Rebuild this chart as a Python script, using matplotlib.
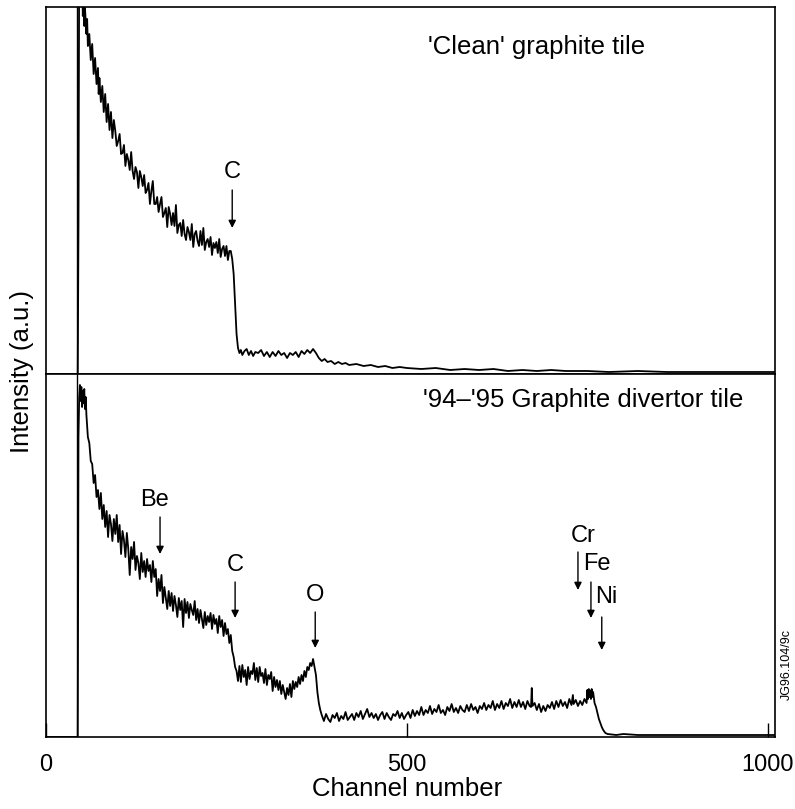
import numpy as np
import matplotlib
matplotlib.use('Agg')
import matplotlib.pyplot as plt

plt.rcParams['font.family'] = ['Liberation Sans', 'DejaVu Sans']

# marker line at the start of the spectrum (channel)
start_ch = 43.5

# 'Clean' graphite tile spectrum: (channel, intensity a.u.)
clean = [(0, 0), (44, 0), (45, 150), (46, 420), (47, 390), (48, 410), (49, 372), (50, 398),
         (51, 358), (52, 380), (53, 348), (54, 366), (55, 352), (56, 340), (57, 355), (58, 328),
         (60, 340), (62, 314), (64, 330), (66, 300), (68, 316), (70, 290), (72, 306), (73, 280),
         (74, 296), (76, 272), (78, 288), (80, 262), (82, 280), (84, 252), (86, 270), (88, 244),
         (90, 262), (92, 236), (94, 254), (96, 243), (98, 228), (100, 233), (102, 240), (104, 220),
         (106, 221), (108, 229), (110, 208), (112, 220), (114, 214), (116, 204), (118, 222), (120, 203),
         (122, 195), (124, 207), (126, 202), (128, 186), (130, 203), (132, 197), (134, 188), (136, 199),
         (138, 181), (140, 184), (142, 191), (144, 170), (146, 183), (148, 193), (150, 170), (152, 170),
         (154, 177), (156, 162), (158, 170), (160, 177), (162, 157), (164, 161), (166, 166), (168, 147),
         (170, 167), (172, 160), (174, 149), (176, 161), (178, 148), (180, 169), (182, 141), (184, 149),
         (186, 151), (188, 138), (190, 154), (192, 140), (194, 134), (196, 147), (198, 142), (200, 134),
         (202, 150), (204, 127), (206, 140), (208, 143), (210, 133), (212, 128), (214, 143), (216, 129),
         (218, 146), (220, 124), (222, 132), (224, 135), (226, 127), (228, 137), (230, 119), (232, 131),
         (234, 126), (236, 132), (238, 121), (240, 135), (242, 117), (244, 125), (246, 128), (248, 118),
         (250, 128), (252, 114), (254, 123), (256, 123), (258, 115), (260, 100), (262, 70), (264, 40),
         (266, 26), (268, 21), (270, 24), (272, 19), (275, 23), (278, 25), (281, 19), (284, 23),
         (287, 18), (290, 22), (294, 21), (298, 24), (302, 18), (306, 22), (310, 17), (314, 22),
         (318, 18), (322, 23), (326, 19), (330, 21), (334, 16), (338, 21), (342, 19), (346, 22),
         (350, 17), (354, 23), (358, 20), (362, 24), (366, 21), (370, 25), (374, 21), (378, 16),
         (382, 13), (386, 15), (390, 12), (395, 13), (400, 10), (405, 12), (410, 10), (415, 11),
         (420, 9), (430, 10), (440, 8), (450, 9), (460, 7), (470, 8), (480, 6), (490, 7),
         (500, 6), (520, 5), (540, 6), (560, 4), (580, 5), (600, 4), (620, 5), (640, 3),
         (660, 4), (680, 3), (700, 4), (720, 3), (750, 3), (780, 2), (820, 3), (860, 2),
         (900, 2), (940, 2), (980, 2), (1010, 2)]

# '94-'95 Graphite divertor tile spectrum: (channel, intensity a.u.)
divertor = [(0, 0), (44, 0), (45, 300), (46, 340), (47, 352), (48, 336), (49, 350), (50, 330),
            (51, 346), (52, 334), (53, 348), (54, 328), (55, 340), (56, 322), (58, 300), (60, 294),
            (62, 276), (64, 273), (66, 254), (68, 262), (70, 240), (72, 247), (74, 228), (76, 244),
            (78, 218), (80, 232), (82, 210), (84, 226), (86, 200), (88, 222), (90, 213), (92, 196),
            (94, 218), (96, 203), (98, 222), (100, 195), (102, 212), (104, 183), (106, 206), (108, 197),
            (110, 180), (112, 204), (114, 188), (116, 162), (118, 190), (120, 178), (122, 195), (124, 167),
            (126, 181), (128, 174), (130, 158), (132, 184), (134, 165), (136, 176), (138, 160), (140, 178),
            (142, 166), (144, 172), (146, 155), (148, 176), (150, 160), (152, 168), (154, 141), (156, 158),
            (158, 146), (160, 162), (162, 134), (164, 150), (166, 139), (168, 128), (170, 146), (172, 131),
            (174, 144), (176, 126), (178, 141), (180, 132), (182, 120), (184, 139), (186, 127), (188, 136),
            (190, 110), (192, 138), (194, 124), (196, 135), (198, 119), (200, 133), (202, 127), (204, 122),
            (206, 136), (208, 117), (210, 128), (212, 114), (214, 127), (216, 118), (218, 109), (220, 125),
            (222, 112), (224, 121), (226, 115), (228, 124), (230, 108), (232, 122), (234, 113), (236, 118),
            (238, 104), (240, 121), (242, 110), (244, 117), (246, 101), (248, 114), (250, 103), (252, 108),
            (254, 94), (256, 102), (258, 86), (260, 80), (262, 70), (264, 66), (266, 56), (268, 71),
            (270, 55), (272, 72), (274, 60), (276, 67), (278, 52), (280, 70), (282, 58), (284, 66),
            (286, 63), (288, 74), (290, 57), (292, 69), (294, 55), (296, 70), (298, 61), (300, 64),
            (302, 54), (304, 68), (306, 52), (308, 62), (310, 58), (312, 65), (314, 46), (316, 60),
            (318, 50), (320, 57), (322, 47), (324, 56), (326, 43), (328, 52), (330, 45), (332, 38),
            (334, 49), (336, 42), (338, 53), (340, 40), (342, 56), (344, 48), (346, 55), (348, 50),
            (350, 60), (352, 53), (354, 62), (356, 56), (358, 66), (360, 60), (362, 70), (364, 67),
            (366, 74), (368, 71), (370, 78), (372, 70), (374, 62), (376, 45), (378, 34), (380, 27),
            (382, 22), (385, 16), (388, 23), (391, 18), (394, 15), (397, 22), (400, 19), (403, 24),
            (406, 16), (409, 21), (412, 18), (415, 25), (418, 17), (421, 20), (424, 23), (427, 17),
            (430, 24), (433, 20), (436, 26), (439, 18), (442, 23), (445, 28), (448, 20), (451, 24),
            (454, 19), (457, 23), (460, 17), (463, 22), (466, 25), (469, 18), (472, 24), (475, 20),
            (478, 17), (481, 23), (484, 21), (487, 26), (490, 19), (493, 24), (496, 18), (499, 22),
            (502, 25), (505, 19), (508, 27), (511, 21), (514, 26), (517, 22), (520, 30), (523, 22),
            (526, 27), (529, 24), (532, 31), (535, 23), (538, 28), (541, 25), (544, 32), (547, 24),
            (550, 27), (553, 22), (556, 30), (559, 26), (562, 33), (565, 25), (568, 29), (571, 24),
            (574, 31), (577, 27), (580, 25), (583, 32), (586, 26), (589, 33), (592, 27), (595, 30),
            (598, 24), (601, 31), (604, 28), (607, 34), (610, 27), (613, 32), (616, 29), (619, 36),
            (622, 27), (625, 33), (628, 29), (631, 36), (634, 28), (637, 34), (640, 31), (643, 38),
            (646, 29), (649, 35), (652, 30), (655, 37), (658, 30), (661, 35), (664, 28), (667, 36),
            (670, 31), (672, 30), (673, 49), (674, 31), (677, 34), (680, 27), (683, 33), (686, 25),
            (689, 31), (692, 26), (695, 32), (698, 29), (701, 35), (704, 28), (707, 36), (710, 30),
            (713, 37), (716, 31), (719, 35), (722, 29), (725, 38), (728, 32), (730, 42), (731, 33),
            (734, 37), (737, 31), (740, 36), (743, 32), (746, 38), (749, 34), (750, 47), (751, 38),
            (752, 48), (753, 40), (754, 46), (755, 38), (756, 48), (757, 40), (758, 45), (760, 34),
            (762, 30), (764, 24), (766, 18), (768, 14), (770, 10), (772, 7), (775, 4), (778, 3),
            (790, 2), (800, 3), (820, 2), (850, 2), (900, 2), (950, 2), (1000, 2), (1010, 2)]

# element labels: (name, label x, label y, arrow x, arrow top, arrow tip)
clean_marks = [('C', 258, 202, 258, 184, 146)]
div_marks = [('Be', 151, 237, 158, 220, 183),
             ('C', 262, 172, 262, 155, 119),
             ('O', 373, 142, 373, 125, 89),
             ('Cr', 744, 201, 737, 185, 147)]
# Fe and Ni labels sit to the right of their arrows
div_side_marks = [('Fe', 744, 173, 755, 155, 119),
                  ('Ni', 761, 140, 770, 120, 87)]

xticks = [0, 500, 1000]

W, H = 795, 809
fig = plt.figure(figsize=(W / 100, H / 100), dpi=100)
ax1 = fig.add_axes([46 / W, 1 - 374 / H, 729 / W, 367 / H])
ax2 = fig.add_axes([46 / W, 1 - 737 / H, 729 / W, 363 / H])


def arrow(ax, x, y0, y1):
    ax.annotate('', xy=(x, y1), xytext=(x, y0),
                arrowprops=dict(arrowstyle='-|>', color='k', lw=1.0,
                                mutation_scale=11, shrinkA=0, shrinkB=0))


for ax, data, ytop in [(ax1, clean, 367), (ax2, divertor, 363)]:
    ch, cnt = np.array(data, dtype=float).T
    ax.plot(ch, cnt, color='k', lw=1.3)
    ax.axvline(start_ch, color='k', lw=1.0)
    ax.set_xlim(0, 1010)
    ax.set_ylim(0, ytop)
    ax.set_yticks([])
    for s in ax.spines.values():
        s.set_linewidth(1.2)

ax1.set_xticks([])
ax2.set_xticks(xticks)
ax2.set_xticklabels([str(t) for t in xticks])
ax2.tick_params(axis='x', direction='in', length=10, width=1, pad=12, labelsize=17)

ax1.text(529, 327, "'Clean' graphite tile", fontsize=18.5, va='center', ha='left')
ax2.text(522, 337, "'94\u2013'95 Graphite divertor tile", fontsize=18.5, va='center', ha='left')

for name, tx, ty, axx, a0, a1 in clean_marks:
    ax1.text(tx, ty, name, fontsize=17, ha='center', va='center')
    arrow(ax1, axx, a0, a1)
for name, tx, ty, axx, a0, a1 in div_marks:
    ax2.text(tx, ty, name, fontsize=17, ha='center', va='center')
    arrow(ax2, axx, a0, a1)
for name, tx, ty, axx, a0, a1 in div_side_marks:
    ax2.text(tx, ty, name, fontsize=17, ha='left', va='center')
    arrow(ax2, axx, a0, a1)

fig.text(22 / W, 1 - 371 / H, 'Intensity (a.u.)', rotation=90, fontsize=18.5,
         ha='center', va='center')
fig.text(407 / W, 1 - 789 / H, 'Channel number', fontsize=18.5, ha='center', va='center')
fig.text(787 / W, 1 - 665 / H, 'JG96.104/9c', rotation=90, fontsize=9,
         ha='center', va='center')

fig.savefig('out.png', dpi=100)
